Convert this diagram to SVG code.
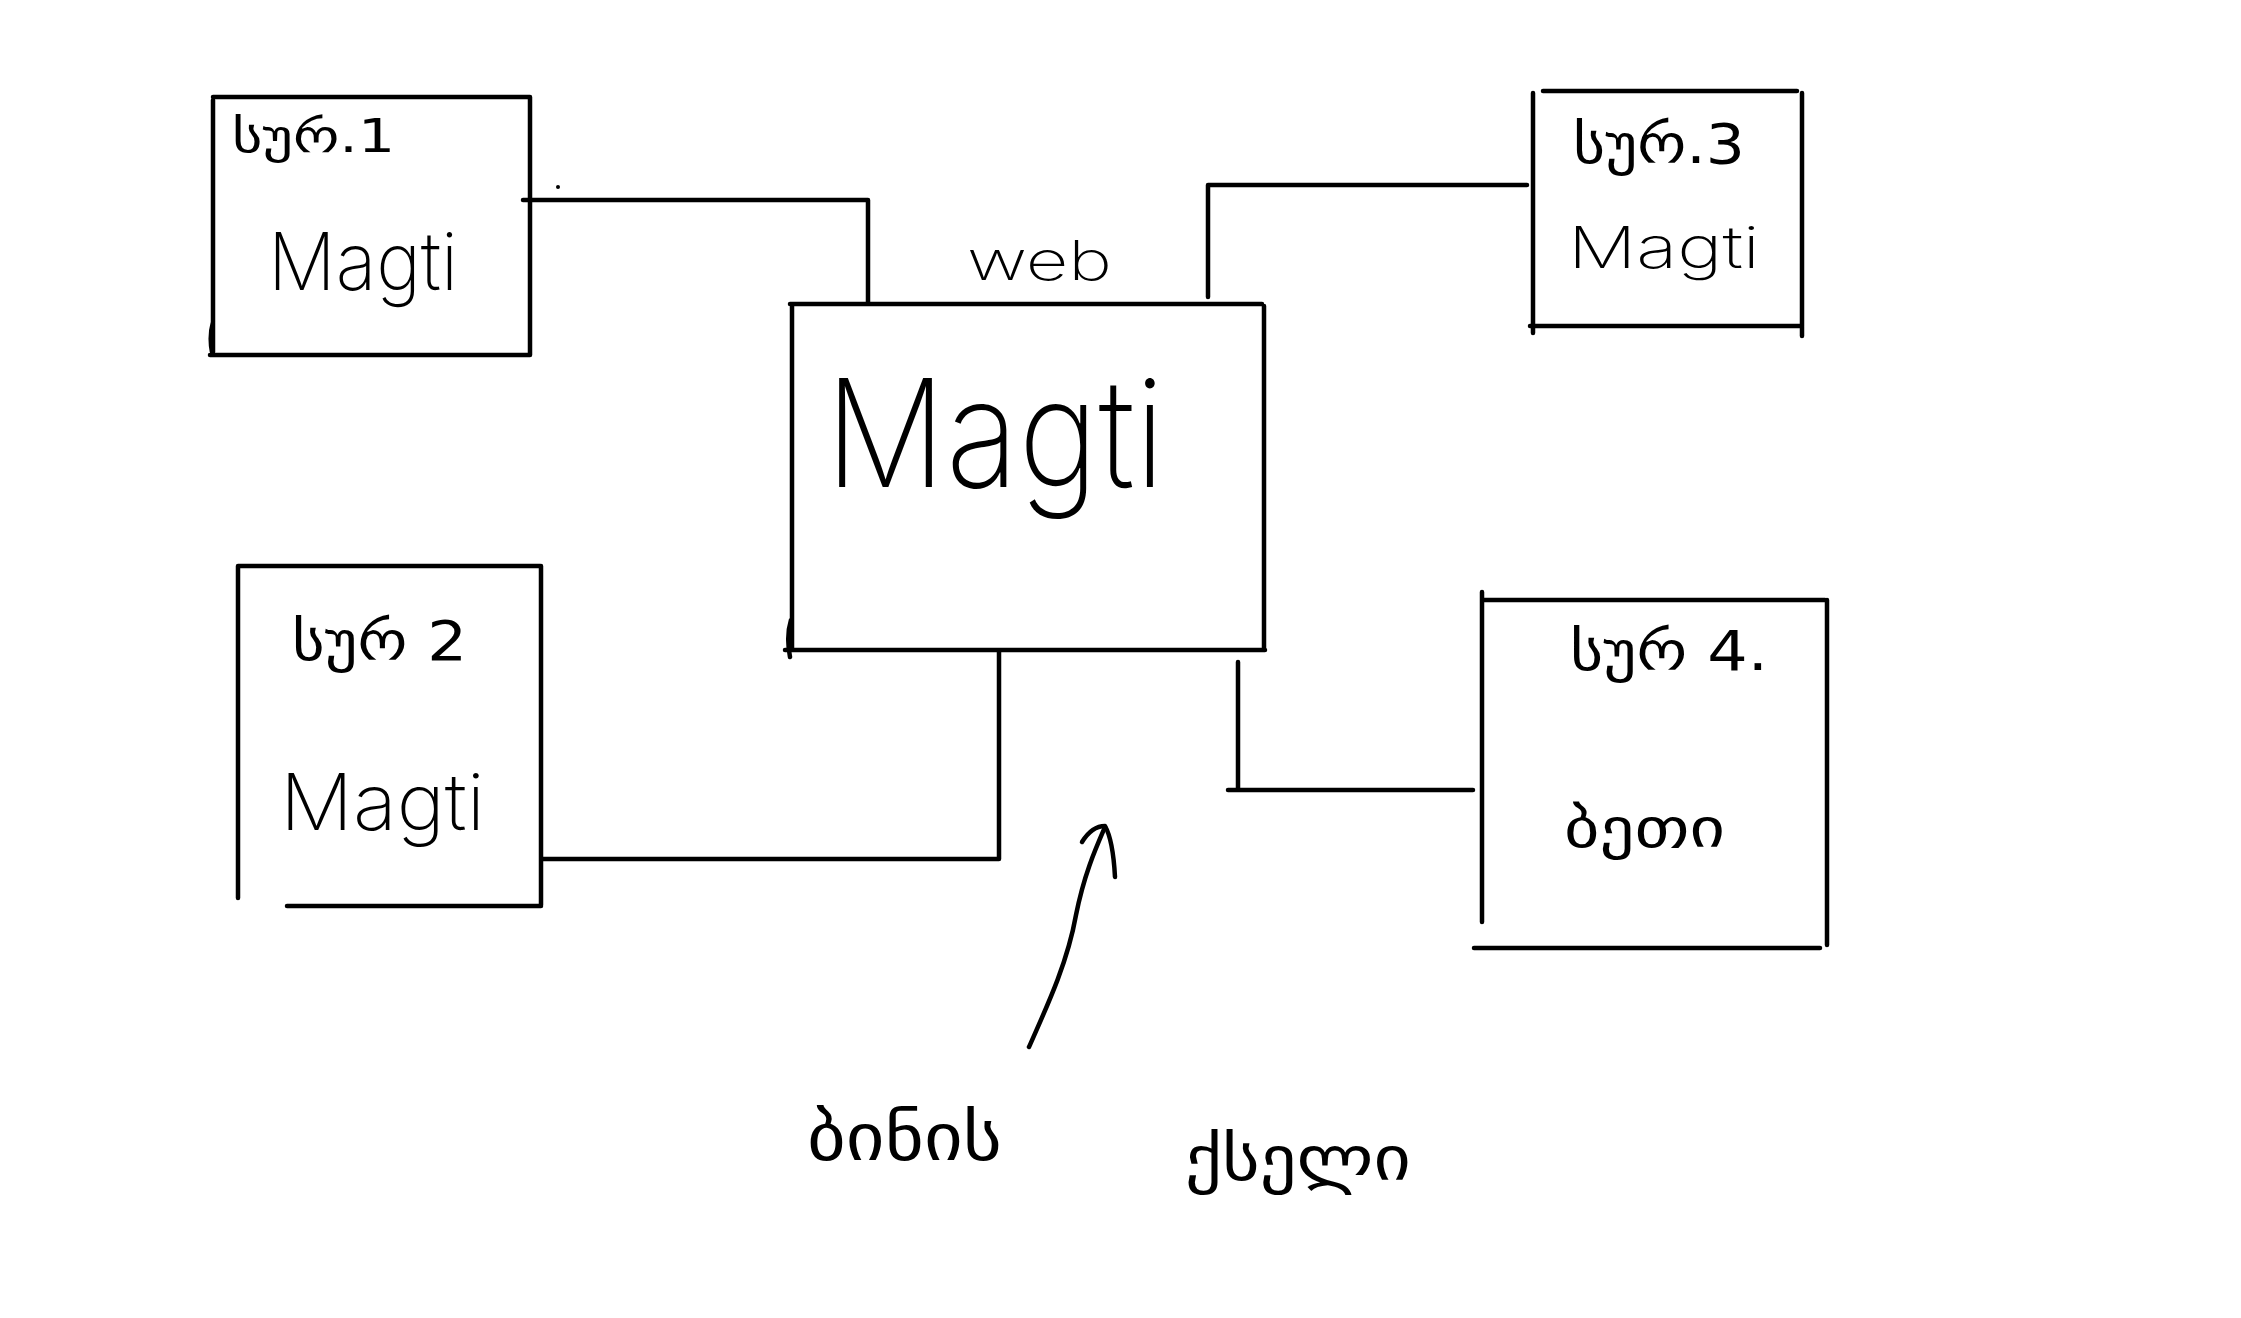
<svg xmlns="http://www.w3.org/2000/svg" width="2241" height="1318" viewBox="0 0 2241 1318">
<style>
.ln{fill:none;stroke:#000;stroke-width:4.5;stroke-linecap:round;stroke-linejoin:round}
.ka{font-family:"DejaVu Sans","Noto Sans",sans-serif;fill:#000}
.la{font-family:Inter,Roboto,"DejaVu Sans",sans-serif;font-weight:200;fill:#000}
</style>
<rect width="2241" height="1318" fill="#fff"/>
<g id="connectors">
<path class="ln" d="M523 200 H868 V302"/>
<path class="ln" d="M543 859 H999 V652"/>
<path class="ln" d="M1208 297 V185 H1527"/>
<path class="ln" d="M1238 662 V788 M1228 790 H1473"/>
<path class="ln" d="M1029 1047 C1050 1000 1068 960 1076 915 C1084 875 1095 850 1105 827"/>
<path class="ln" d="M1082 842 Q1092 826 1105 826 Q1113 840 1115 877"/>
<circle cx="558" cy="187" r="2" fill="#000"/>
</g>
<g id="node-1">
<path class="ln" d="M213 97 H530 M530 97 V355 M210 355 H530 M213 100 V352 M213 322 Q209 336 212 352"/>
<text class="ka" x="232" y="152" font-size="46" textLength="163" lengthAdjust="spacingAndGlyphs">სურ.1</text>
<text class="la" x="268" y="290" font-size="80" textLength="190" lengthAdjust="spacingAndGlyphs">Magti</text>
</g>
<g id="node-2">
<path class="ln" d="M238 566 H540 M541 566 V905 M287 906 H541 M238 566 V898"/>
<text class="ka" x="292" y="660" font-size="55" textLength="175" lengthAdjust="spacingAndGlyphs">სურ 2</text>
<text class="la" x="280" y="830" font-size="78" textLength="205" lengthAdjust="spacingAndGlyphs">Magti</text>
</g>
<g id="node-3">
<path class="ln" d="M1543 91 H1797 M1533 93 V333 M1802 93 V336 M1530 326 H1802"/>
<text class="ka" x="1573" y="163" font-size="55" textLength="172" lengthAdjust="spacingAndGlyphs">სურ.3</text>
<text class="la" x="1568" y="268" font-size="58" textLength="192" lengthAdjust="spacingAndGlyphs">Magti</text>
</g>
<g id="node-4">
<path class="ln" d="M1482 600 H1825 M1482 592 V922 M1827 600 V945 M1474 948 H1820"/>
<text class="ka" x="1570" y="670" font-size="55" textLength="198" lengthAdjust="spacingAndGlyphs">სურ 4.</text>
<text class="ka" x="1564" y="847" font-size="55" textLength="161" lengthAdjust="spacingAndGlyphs">ბეთი</text>
</g>
<g id="node-center">
<path class="ln" d="M790 304 H1262 M792 304 V650 M1264 306 V650 M785 650 H1265 M791 620 Q786 636 790 657"/>
<text class="la" x="967" y="280" font-size="55" textLength="145" lengthAdjust="spacingAndGlyphs">web</text>
<text class="la" x="825" y="487" font-size="150" textLength="340" lengthAdjust="spacingAndGlyphs">Magti</text>
</g>
<g id="caption">
<text class="ka" x="807" y="1160" font-size="65" textLength="195" lengthAdjust="spacingAndGlyphs">ბინის</text>
<text class="ka" x="1185" y="1180" font-size="62" textLength="226" lengthAdjust="spacingAndGlyphs">ქსელი</text>
</g>
</svg>
